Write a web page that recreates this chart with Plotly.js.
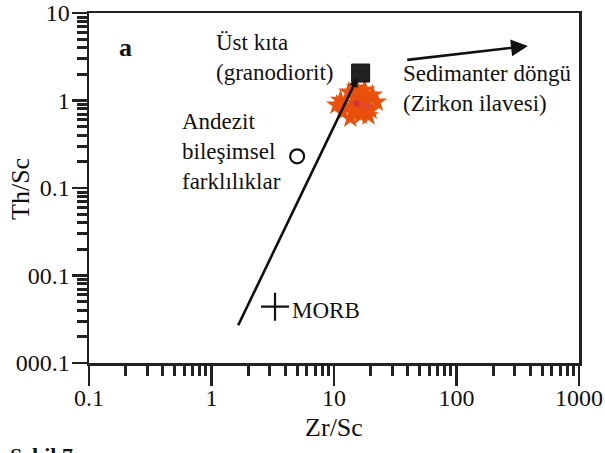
<!DOCTYPE html>
<html>
<head>
<meta charset="utf-8">
<script src="https://cdn.plot.ly/plotly-3.0.1.min.js"></script>
<style>html,body{margin:0;padding:0;background:#fff;}#chart{width:605px;height:453px;}</style>
</head>
<body>
<div id="chart"></div>
<script>
// Tick values and labels (as printed in the original figure)
const xTickVals = [0.1, 1, 10, 100, 1000];
const xTickText = ["0.1", "1", "10", "100", "1000"];
const yTickVals = [0.001, 0.01, 0.1, 1, 10];
const yTickText = ["000.1", "00.1", "0.1", "1", "10"];
const minorDigits = [2, 3, 4, 5, 6, 7, 8, 9];

// Reference compositions
const ucZr = [16.5], ucTh = [2.06];          // Üst kıta (granodiorit)
const andZr = [5.0], andTh = [0.23];         // Andezit
const morbZr = [3.3], morbTh = [0.0044];     // MORB

// Sample cluster (orange)
const sampleZr = [11.3, 13.2, 15.3, 17.8, 20.6, 22.3, 19.9, 16.5, 13.6, 11.7, 10.5, 15.0, 18.1, 12.4, 15.9, 19.1, 14.2, 16.8, 14.6];
const sampleTh = [1.01, 1.25, 1.39, 1.32, 1.16, 0.96, 0.78, 0.68, 0.63, 0.74, 0.89, 0.94, 1.01, 0.86, 1.12, 0.67, 0.78, 0.84, 1.08];
// Mean samples (red stars)
const meanZr = [15.3, 18.6], meanTh = [0.93, 0.87];

// Trend lines (start -> end)
const compTrendZr = [1.63, 15.5], compTrendTh = [0.0026, 1.81];
const sedTrendZr = [38.5, 383], sedTrendTh = [2.9, 4.2];

const serif = "Liberation Serif, Times New Roman, serif";
const dark = "#222";
const L = Math.log10;

function minorTicks(decades) {
  const out = [];
  decades.slice(0, -1).forEach(d => minorDigits.forEach(m => out.push(d * m)));
  return out;
}

const traces = [
  {x: sampleZr, y: sampleTh, type: "scatter", mode: "markers", name: "Örnekler",
   marker: {symbol: "star", size: 16, color: "#e9500c", line: {width: 0}}},
  {x: meanZr, y: meanTh, type: "scatter", mode: "markers", name: "Ortalama",
   marker: {symbol: "star", size: 8, color: ["#d6303a", "#e0483f"], line: {width: 0}}},
  {x: ucZr, y: ucTh, type: "scatter", mode: "markers", name: "Üst kıta",
   marker: {symbol: "square", size: 18, color: "#222", line: {color: "#111", width: 1}}},
  {x: andZr, y: andTh, type: "scatter", mode: "markers", name: "Andezit",
   marker: {symbol: "circle-open", size: 14, color: "#111", line: {width: 2.2}}},
  {x: morbZr, y: morbTh, type: "scatter", mode: "markers", name: "MORB",
   marker: {symbol: "cross-thin-open", size: 20, color: "#111", line: {width: 2.2, color: "#111"}}}
];

const txt = (text, x, y, size, opts) => Object.assign({
  text: text, xref: "paper", yref: "paper", x: x, y: y, showarrow: false,
  xanchor: "left", yanchor: "middle", align: "left",
  font: {family: serif, size: size, color: "#111"}
}, opts || {});

const annotations = [
  // trend arrows
  {x: L(compTrendZr[1]), y: L(compTrendTh[1]), ax: L(compTrendZr[0]), ay: L(compTrendTh[0]),
   xref: "x", yref: "y", axref: "x", ayref: "y", showarrow: true, text: "",
   arrowhead: 2, arrowsize: 0.7, arrowwidth: 2.6, arrowcolor: "#111", standoff: 0},
  {x: L(sedTrendZr[1]), y: L(sedTrendTh[1]), ax: L(sedTrendZr[0]), ay: L(sedTrendTh[0]),
   xref: "x", yref: "y", axref: "x", ayref: "y", showarrow: true, text: "",
   arrowhead: 2, arrowsize: 1.3, arrowwidth: 2.6, arrowcolor: "#111", standoff: 0},
  // labels
  txt("<b>a</b>", 0.058, 0.9, 26),
  txt("Üst kıta<br>(granodiorit)", 0.256, 0.873, 23),
  txt("Sedimanter döngü<br>(Zirkon ilavesi)", 0.636, 0.783, 23),
  txt("Andezit<br>bileşimsel<br>farklılıklar", 0.186, 0.603, 23),
  txt("MORB", 0.411, 0.151, 23),
  // y axis title
  txt("Th/Sc", -0.141, 0.497, 26, {textangle: -90, xanchor: "center"}),
  // figure caption (cut off at the bottom edge in the original)
  txt("<b>Şekil 7.</b>", -0.165, -0.222, 22, {yanchor: "top"})
];

const axisCommon = {
  type: "log", showgrid: false, zeroline: false,
  showline: true, linecolor: dark, linewidth: 2.5, mirror: true,
  ticks: "outside", tickcolor: dark, tickwidth: 2.5,
  tickfont: {family: serif, size: 24, color: "#111"},
  tickmode: "array"
};
const minorAxis = {
  type: "log", showgrid: false, zeroline: false, showline: false,
  ticks: "outside", tickcolor: dark, tickwidth: 3,
  tickmode: "array", showticklabels: false
};

const layout = {
  width: 605, height: 453,
  margin: {l: 89, r: 26, t: 13, b: 90},
  paper_bgcolor: "#fff", plot_bgcolor: "#fff",
  showlegend: false,
  xaxis: Object.assign({}, axisCommon, {
    range: [-1, 3], tickvals: xTickVals, ticktext: xTickText, ticklen: 20,
    ticklabelstandoff: -8,
    title: {text: "Zr/Sc", font: {family: serif, size: 26, color: "#111"}, standoff: 8}
  }),
  yaxis: Object.assign({}, axisCommon, {
    range: [-3, 1], tickvals: yTickVals, ticktext: yTickText, ticklen: 15,
    ticklabelstandoff: -3
  }),
  // overlay axes carrying the minor ticks
  xaxis2: Object.assign({}, minorAxis, {
    overlaying: "x", anchor: "y", side: "bottom", range: [-1, 3],
    tickvals: minorTicks(xTickVals), ticklen: 12
  }),
  yaxis2: Object.assign({}, minorAxis, {
    overlaying: "y", anchor: "x", side: "left", range: [-3, 1],
    tickvals: minorTicks(yTickVals), ticklen: 11
  }),
  annotations: annotations
};

// an invisible trace so the overlay axes are drawn
traces.push({x: [], y: [], xaxis: "x2", yaxis: "y2", type: "scatter", mode: "markers",
             showlegend: false, hoverinfo: "skip"});

Plotly.newPlot("chart", traces, layout, {displayModeBar: false, staticPlot: true});
</script>
</body>
</html>
